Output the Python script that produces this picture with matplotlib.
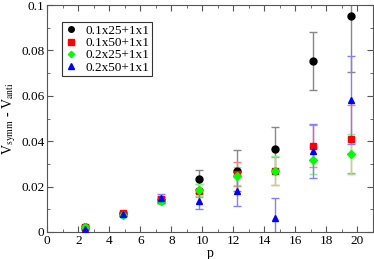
import numpy as np
import matplotlib
matplotlib.use('Agg')
import matplotlib.pyplot as plt
from matplotlib.ticker import MultipleLocator

plt.rcParams['font.family'] = ['Liberation Serif', 'DejaVu Serif']
plt.rcParams['mathtext.fontset'] = 'stix'

# ── Data ─────────────────────────────────────────────────────────────────────
p = [2.45, 4.9, 7.35, 9.8, 12.25, 14.7, 17.15, 19.6]

labels = ['0.1x25+1x1', '0.1x50+1x1', '0.2x25+1x1', '0.2x50+1x1']

v_01x25 = [0.0022, 0.0080, 0.0140, 0.0232, 0.0270, 0.0366, 0.0755, 0.0953]
e_01x25 = [0.0005, 0.0008, 0.0012, 0.0042, 0.0090, 0.0095, 0.0128, 0.0250]

v_01x50 = [0.0020, 0.0082, 0.0145, 0.0182, 0.0255, 0.0270, 0.0378, 0.0410]
e_01x50 = [0.0005, 0.0008, 0.0015, 0.0030, 0.0054, 0.0062, 0.0092, 0.0148]

v_02x25 = [0.0020, 0.0075, 0.0135, 0.0185, 0.0248, 0.0270, 0.0316, 0.0345]
e_02x25 = [0.0005, 0.0008, 0.0012, 0.0025, 0.0040, 0.0065, 0.0060, 0.0088]

v_02x50 = [0.0015, 0.0078, 0.0148, 0.0137, 0.0180, 0.0060, 0.0357, 0.0581]
e_02x50 = [0.0005, 0.0008, 0.0020, 0.0037, 0.0065, 0.0088, 0.0120, 0.0195]

series = [
    (v_01x25, e_01x25, 'black', 'o', '#888888'),
    (v_01x50, e_01x50, 'red', 's', '#ff8080'),
    (v_02x25, e_02x25, '#00ff00', 'D', '#90ee90'),
    (v_02x50, e_02x50, 'blue', '^', '#8080ff'),
]

fig = plt.figure(figsize=(3.74, 2.59), dpi=100)
ax = fig.add_axes([47.3 / 374, 27 / 259, (373 - 47.3) / 374, (232 - 5) / 259])

for (v, e, col, mk, ecol), lab in zip(series, labels):
    ax.errorbar(p, v, yerr=e, fmt='none', ecolor=ecol, elinewidth=1.0,
                capsize=3, capthick=1.0, zorder=2)
    ms = 4.0 if mk == 'D' else 5.0
    ax.plot(p, v, ls='none', marker=mk, color=col, ms=ms, label=lab, zorder=3)

ax.set_xlim(0, 21)
ax.set_ylim(0, 0.1)
ax.xaxis.set_major_locator(MultipleLocator(2))
ax.xaxis.set_minor_locator(MultipleLocator(1))
ax.yaxis.set_major_locator(MultipleLocator(0.02))
ax.yaxis.set_minor_locator(MultipleLocator(0.01))
ax.set_yticks([0, 0.02, 0.04, 0.06, 0.08, 0.1])
ax.set_yticklabels(['0', '0.02', '0.04', '0.06', '0.08', '0.1'])
ax.tick_params(which='both', direction='in', top=True, right=True,
               labelsize=9.5, pad=2, color='#555555')
ax.tick_params(which='major', length=4)
ax.tick_params(which='minor', length=2.5)
for s in ax.spines.values():
    s.set_color('#555555')

ax.set_xlabel('p', fontsize=10, labelpad=0)
ax.set_ylabel(r'V$_{\rm symm}$ - V$_{\rm anti}$', fontsize=10, labelpad=2)

leg = ax.legend(loc='upper left', bbox_to_anchor=(0.045, 0.925), fontsize=9.5,
                frameon=True, fancybox=False, edgecolor='black',
                handlelength=1.0, handletextpad=0.6, borderpad=0.2,
                labelspacing=0.0, borderaxespad=0, markerscale=0.8)
leg.get_frame().set_linewidth(0.8)

fig.savefig('out.png', dpi=100)
